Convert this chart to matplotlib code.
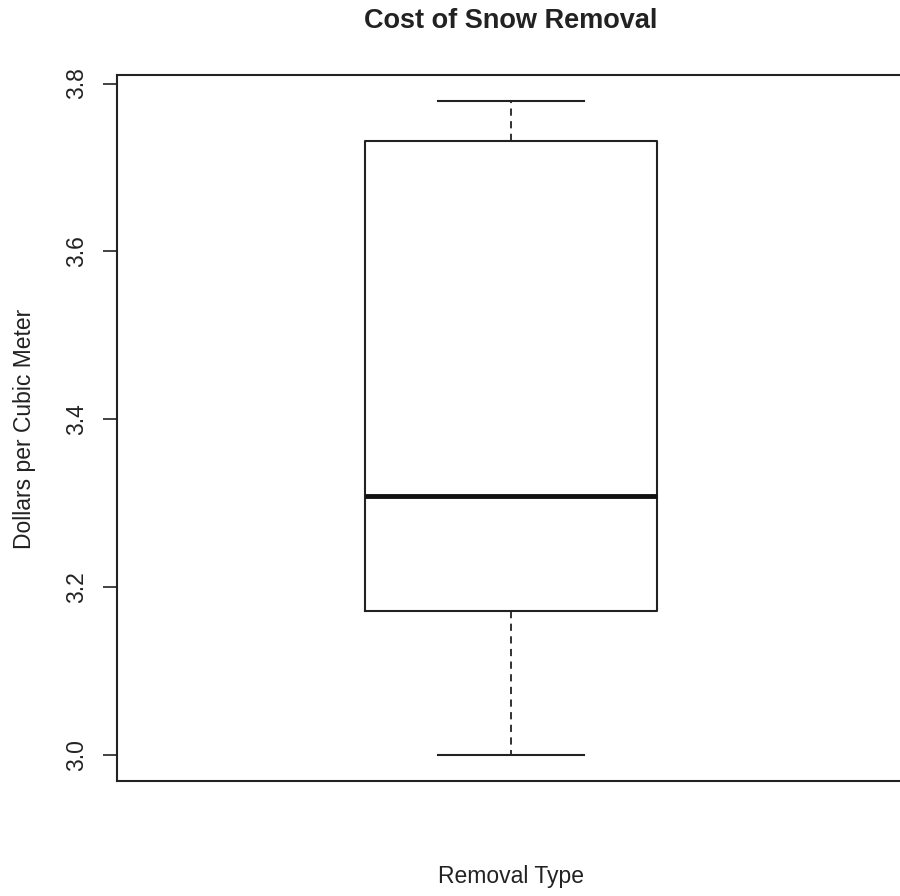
import matplotlib.pyplot as plt

# boxplot statistics
label = "Snow"
whisker_low = 3.0
q1 = 3.172
median = 3.308
q3 = 3.731
whisker_high = 3.779

yticks = [3.0, 3.2, 3.4, 3.6, 3.8]

plt.rcParams['font.family'] = ['Liberation Sans', 'DejaVu Sans']

fig = plt.figure(figsize=(9, 8.96), dpi=100)
# axes run slightly past the right edge, like the cropped original
ax = fig.add_axes([117 / 900, 1 - 781 / 896, 788 / 900, 706 / 896])

stats = [{
    'label': label,
    'whislo': whisker_low,
    'q1': q1,
    'med': median,
    'q3': q3,
    'whishi': whisker_high,
    'fliers': [],
}]

ax.bxp(stats, positions=[1], widths=0.3706, showfliers=False,
       boxprops=dict(color='#222222', linewidth=1.5),
       medianprops=dict(color='#111111', linewidth=3.5),
       whiskerprops=dict(color='#222222', linewidth=1.3, linestyle=(0, (4, 3))),
       capprops=dict(color='#222222', linewidth=1.5),
       capwidths=0.1865)

ax.set_xlim(0.5, 1.5)
lo = whisker_low - 0.04 * (whisker_high - whisker_low)
hi = whisker_high + 0.04 * (whisker_high - whisker_low)
ax.set_ylim(lo, hi)

ax.set_xticks([])
ax.set_yticks(yticks)
ax.set_yticklabels([f"{v:.1f}" for v in yticks], rotation=90, va='center', fontsize=16.5, color='#222222')
ax.tick_params(axis='y', length=10, width=1.2, pad=11, color='#222222')
for s in ax.spines.values():
    s.set_linewidth(1.5)
    s.set_color('#222222')

fig.text(511 / 900, 1 - 28 / 896, "Cost of Snow Removal", ha='center', va='baseline',
         fontsize=19.5, fontweight='bold', color='#222222')
fig.text(511 / 900, 1 - 883 / 896, "Removal Type", ha='center', va='baseline',
         fontsize=16.5, color='#222222')
fig.text(25 / 900, 1 - 429 / 896, "Dollars per Cubic Meter", ha='center', va='center',
         rotation=90, fontsize=16.5, color='#222222')

fig.savefig("out.png", dpi=100)
